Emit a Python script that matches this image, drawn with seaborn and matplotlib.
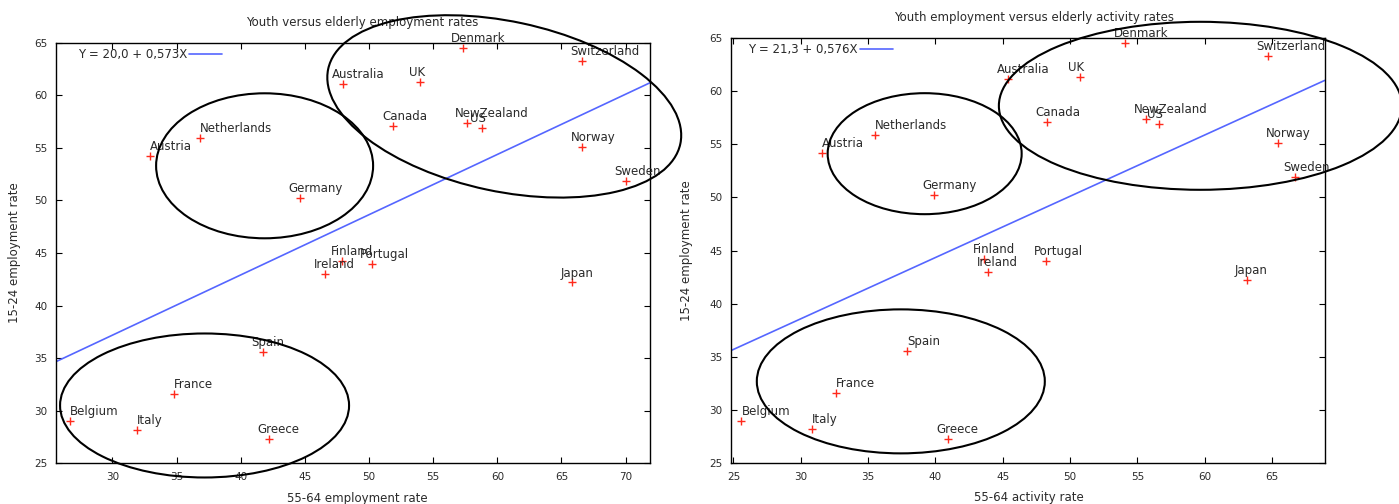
import matplotlib
matplotlib.use("Agg")
import matplotlib.pyplot as plt
import pandas as pd
import seaborn as sns
from matplotlib.patches import Ellipse
from matplotlib.transforms import ScaledTranslation

# --- data -----------------------------------------------------------------
countries = ["Denmark", "Switzerland", "Australia", "UK", "Canada", "NewZealand", "US",
             "Norway", "Sweden", "Netherlands", "Austria", "Germany", "Finland", "Portugal",
             "Ireland", "Japan", "Spain", "France", "Belgium", "Italy", "Greece"]
youth_employment = [64.5, 63.3, 61.1, 61.3, 57.1, 57.4, 56.9, 55.1, 51.9, 55.9, 54.2,
                    50.2, 44.2, 44.0, 43.0, 42.2, 35.6, 31.6, 29.0, 28.2, 27.3]
elderly_employment = [57.3, 66.6, 48.0, 54.0, 51.9, 57.6, 58.8, 66.6, 70.0, 36.8, 32.9,
                      44.6, 47.9, 50.2, 46.6, 65.8, 41.7, 34.8, 26.7, 31.9, 42.2]
elderly_activity = [54.1, 64.7, 45.4, 50.7, 48.3, 55.6, 56.6, 65.4, 66.7, 35.5, 31.6,
                    39.9, 43.6, 48.2, 43.9, 63.1, 37.9, 32.6, 25.6, 30.8, 40.9]

# fitted lines: intercept, slope
fit_employment = (20.0, 0.573)
fit_activity = (21.3, 0.576)

titles = ["Youth versus elderly employment rates",
          "Youth employment versus elderly activity rates"]
x_labels = ["55-64 employment rate", "55-64 activity rate"]
y_label = "15-24 employment rate"
x_ticks = [[30, 35, 40, 45, 50, 55, 60, 65, 70], [25, 30, 35, 40, 45, 50, 55, 60, 65]]
y_ticks = [25, 30, 35, 40, 45, 50, 55, 60, 65]

# --- layout / style -------------------------------------------------------
sns.set_theme(style="white")
plt.rcParams["font.family"] = ["DejaVu Sans"]
TEXT = "#2a2a2a"
RED = "#ff2a1c"
BLUE = "#5566ff"

fig = plt.figure(figsize=(13.99, 5.04), dpi=100)
ax_l = fig.add_axes([0.04003, 0.08075, 0.42459, 0.83433])
ax_r = fig.add_axes([0.52230, 0.08075, 0.42459, 0.84444])

# label placement: names flush with the marker vs. shifted left (offsets in points)
flush_left = {"Netherlands", "Austria", "France", "Belgium", "Italy"}
flush_right = {"Netherlands", "Austria", "Spain", "France", "Belgium", "Italy"}

# group rings: centre in data units, size in pixels, angle in degrees
rings_left = [(41.86, 53.3, 217, 145, 0), (37.18, 30.5, 289, 144, 0),
              (60.54, 58.95, 360, 170, -12)]
rings_right = [(39.2, 54.1, 194, 121, 0), (59.67, 58.6, 403, 168, 0),
               (37.43, 32.7, 288, 144, 0)]

panels = [
    (ax_l, elderly_employment, fit_employment, (25.6, 71.9), flush_left, rings_left,
     (0.515, 1.049), (0.508, -0.068), -0.059, (0.0365, 0.972)),
    (ax_r, elderly_activity, fit_activity, (24.8, 68.9), flush_right, rings_right,
     (0.511, 1.048), (0.502, -0.066), -0.0635, (0.030, 0.973)),
]

for i, (ax, xs, fit, xlim, flush, rings, tpos, xlpos, ylx, legpos) in enumerate(panels):
    df = pd.DataFrame({"country": countries, "x": xs, "y": youth_employment})
    a, b = fit
    line = pd.DataFrame({"x": [xlim[0], xlim[1]]})
    line["y"] = a + b * line["x"]
    label = f"Y = {a:.1f} + {b:.3f}X".replace(".", ",")

    sns.lineplot(data=line, x="x", y="y", color=BLUE, lw=1.2, label=label, ax=ax)
    sns.scatterplot(data=df, x="x", y="y", marker="+", color=RED, s=28,
                    linewidth=1.0, ax=ax, zorder=3)

    for name, xv, yv in zip(df["country"], df["x"], df["y"]):
        dx = 0.0 if name in flush else -8.3
        ax.annotate(name, (xv, yv), xytext=(dx, 4.3), textcoords="offset points",
                    ha="left", va="baseline", fontsize=8.5, color=TEXT)

    ax.set_xlim(*xlim)
    ax.set_ylim(25, 65)
    ax.set_xticks(x_ticks[i])
    ax.set_yticks(y_ticks)

    for cx, cy, w, h, ang in rings:
        tr = fig.dpi_scale_trans + ScaledTranslation(cx, cy, ax.transData)
        ax.add_patch(Ellipse((0, 0), w / 100, h / 100, angle=ang, transform=tr,
                             fill=False, ec="black", lw=1.5, clip_on=False, zorder=4))

    for sp in ax.spines.values():
        sp.set_visible(True)
        sp.set_color("black")
        sp.set_linewidth(1.0)
    ax.tick_params(direction="in", length=4.3, width=0.8, top=True, right=True,
                   bottom=True, left=True, labelsize=7.5, pad=6, colors="black",
                   labelcolor=TEXT)

    ax.set_xlabel(x_labels[i], fontsize=8.5, color=TEXT)
    ax.set_ylabel(y_label, fontsize=8.5, color=TEXT)
    ax.xaxis.set_label_coords(*xlpos)
    ax.yaxis.set_label_coords(ylx, 0.5)
    ax.text(tpos[0], tpos[1], titles[i], transform=ax.transAxes, ha="center",
            va="center", fontsize=8.5, color=TEXT)

    ax.legend(loc="center left", bbox_to_anchor=legpos, markerfirst=False,
              frameon=False, handlelength=2.85, handletextpad=0.15, borderpad=0,
              borderaxespad=0, fontsize=8.5, labelcolor=TEXT)

fig.savefig("out.png", dpi=100)
